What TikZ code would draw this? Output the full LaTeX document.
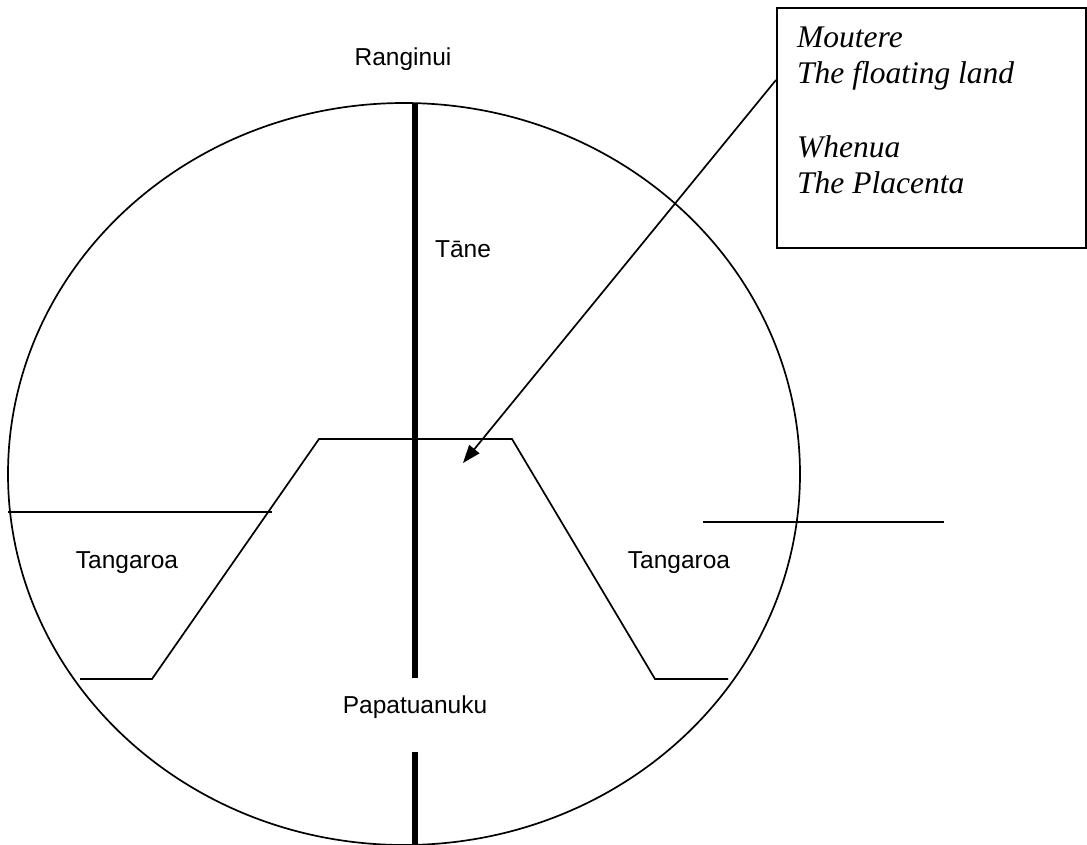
\documentclass[tikz,border=0pt]{standalone}
\usepackage{fontspec}
\setmainfont{Liberation Serif}
\newfontfamily\arialfont{Liberation Sans}
\usetikzlibrary{arrows.meta,shapes.geometric}
\tikzset{
  thin line/.style={line width=1.7pt, line cap=butt},
  pole/.style={line width=5.5pt, line cap=butt},
  lbl/.style={font=\arialfont\fontsize{24.5}{28}\selectfont, inner sep=0pt, anchor=base},
  notebox/.style={draw, line width=1.7pt, rectangle, minimum width=309pt, minimum height=240pt, anchor=north west, inner sep=0pt},
  notetext/.style={font=\fontsize{31.5}{36.5}\selectfont\itshape, inner sep=0pt, anchor=base west},
}
\begin{document}
\begin{tikzpicture}[x=1pt, y=-1pt]
  \clip (0,0) rectangle (1087,844);
  \fill[white] (0,0) rectangle (1087,844);
  % world circle
  \node[draw, thin line, ellipse, minimum width=792pt, minimum height=742pt, inner sep=0pt] (world) at (404,474) {};
  % pole (Tane)
  \coordinate (poletop) at (415,103);
  \coordinate (poleend) at (415,678);
  \coordinate (polelow) at (415,752);
  \coordinate (polebot) at (415,850);
  \draw[pole] (poletop) -- (poleend);
  \draw[pole] (polelow) -- (polebot);
  % land (trapezoid)
  \coordinate (l1) at (80,679);
  \coordinate (l2) at (152,679);
  \coordinate (l3) at (319,439);
  \coordinate (l4) at (512,439);
  \coordinate (l5) at (655,679);
  \coordinate (l6) at (728,679);
  \draw[thin line, line join=miter] (l1) -- (l2) -- (l3) -- (l4) -- (l5) -- (l6);
  % sea levels
  \coordinate (wl1) at (8,512);
  \coordinate (wl2) at (272,512);
  \coordinate (wr1) at (703,522);
  \coordinate (wr2) at (944,522);
  \draw[thin line] (wl1) -- (wl2);
  \draw[thin line] (wr1) -- (wr2);
  % labels
  \node[lbl] (ranginui) at (403,65) {Ranginui};
  \node[lbl] (tane) at (463,257) {T\=ane};
  \node[lbl] (tangL) at (127,568) {Tangaroa};
  \node[lbl] (tangR) at (679,568) {Tangaroa};
  \node[lbl] (papa) at (415,713) {Papatuanuku};
  % note box
  \node[notebox] (box) at (776,7) {};
  \node[notetext] (n1) at (797,47) {Moutere};
  \node[notetext] (n2) at (797,83) {The floating land};
  \node[notetext] (n3) at (797,157) {Whenua};
  \node[notetext] (n4) at (797,193) {The Placenta};
  \coordinate (astart) at (776,80);
  \coordinate (tip) at (463,463);
  \draw[thin line, -{Triangle[length=18pt, width=13pt]}] (astart) -- (tip);
\end{tikzpicture}
\end{document}
